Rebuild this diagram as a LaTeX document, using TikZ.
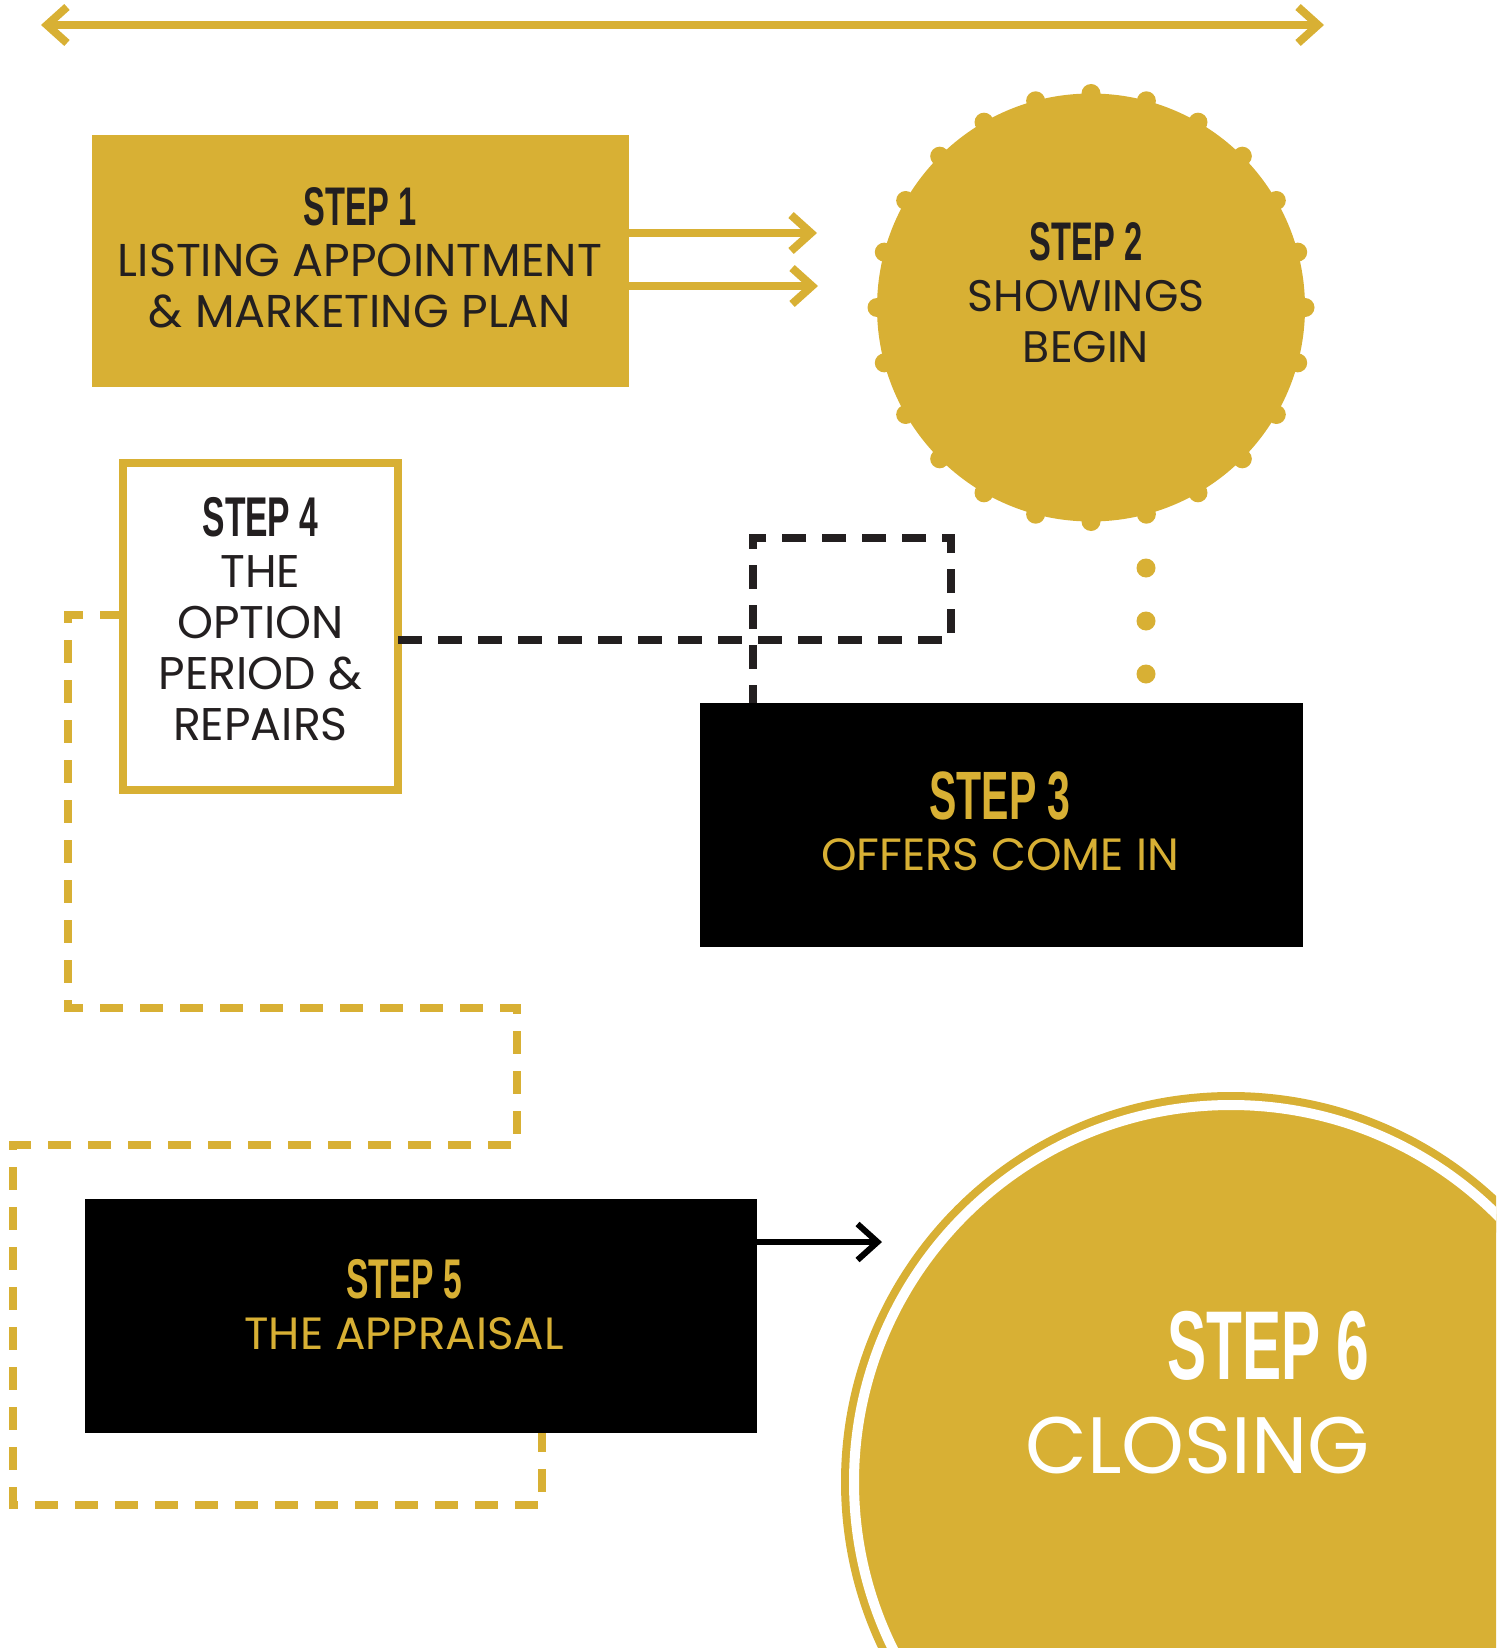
\documentclass[tikz,border=0pt]{standalone}
\usepackage{fontspec}
\setmainfont{Poppins}
\newfontfamily\stepfont{Liberation Sans Bold}[FakeStretch=0.6]
\usetikzlibrary{arrows.meta}
\definecolor{mgold}{RGB}{216, 176, 52}
\definecolor{mdark}{RGB}{35, 31, 32}
\tikzset{
  stepbox/.style = {rectangle, inner sep=0pt, outer sep=0pt},
  steptext/.style = {align=center, inner sep=0pt},
  goldarrow/.style = {mgold, line width=4pt, line join=miter,
                      -{Straight Barb[length=10pt, width=18pt]}},
  darkarrow/.style = {black, line width=3pt, line join=miter,
                      -{Straight Barb[length=10pt, width=18pt]}},
  golddash/.style = {mgold, line width=4pt, dash pattern=on 11.5pt off 8.5pt},
  darkdash/.style = {mdark, line width=4pt, dash pattern=on 12pt off 8pt},
  golddots/.style = {mgold, line width=9.5pt, line cap=round, dash pattern=on 0pt off 26.5pt}
}
\newcommand{\stepsize}[1]{\stepfont\fontsize{#1}{25.5}\selectfont}
\newcommand{\textsize}[1]{\fontsize{#1}{25.5}\selectfont}

\begin{document}
\begin{tikzpicture}[x=0.5pt, y=-0.5pt]
    \useasboundingbox (0, 0) rectangle (1496, 1648);
    \clip (0, 0) rectangle (1496, 1648);

    \node [stepbox, fill=mgold, minimum width=268.5pt, minimum height=126pt] (s1) at (360, 261) {};
    \node [circle, fill=mgold, inner sep=0pt, outer sep=0pt, minimum size=214pt] (s2) at (1091, 307.5) {};
    \node [stepbox, fill=black, minimum width=301.5pt, minimum height=122pt] (s3) at (1001.5, 825) {};
    \node [stepbox, draw=mgold, line width=4pt, fill=white, minimum width=137.5pt, minimum height=163.5pt] (s4) at (260.5, 626.5) {};
    \node [stepbox, fill=black, minimum width=336pt, minimum height=117pt] (s5) at (421, 1316) {};
    \node [circle, fill=mgold, draw=mgold, line width=4pt, double=white, double distance=5pt,
           inner sep=0pt, minimum size=377pt] (s6) at (1231, 1482) {};

    \foreach \a in {0, 15, ..., 345}
      \fill [mgold] (s2.\a) circle (9.5);

    \node [steptext, text=mdark, font=\textsize{23}] (t1) at (360, 258)
      {{\stepsize{27.2}STEP 1}\\LISTING APPOINTMENT\\\& MARKETING PLAN};
    \node [steptext, text=mdark, font=\textsize{22.1}] (t2) at (1086, 293)
      {{\stepsize{27.2}STEP 2}\\SHOWINGS\\BEGIN};
    \node [steptext, text=mgold, font=\textsize{22.6}] (t3) at (1000, 821)
      {{\stepsize{34.2}STEP 3}\\OFFERS COME IN};
    \node [steptext, text=mdark, font=\textsize{22.9}] (t4) at (260.5, 619.5)
      {{\stepsize{28}STEP 4}\\THE\\OPTION\\PERIOD \&\\REPAIRS};
    \node [steptext, text=mgold, font=\textsize{22.6}] (t5) at (404, 1305)
      {{\stepsize{28}STEP 5}\\THE APPRAISAL};
    \node [steptext, align=right, anchor=east, text=white, font=\fontsize{40}{47}\selectfont] (t6) at (1370, 1393)
      {{\stepfont\fontsize{48.9}{47}\selectfont STEP 6}\\CLOSING};

    \coordinate (tl) at (41, 25);
    \coordinate (tr) at (1324, 25);
    \draw [goldarrow, {Straight Barb[length=10pt, width=18pt]}-{Straight Barb[length=10pt, width=18pt]}] (tl) -- (tr);

    \coordinate (a1) at (817, 233);
    \coordinate (a2) at (818, 286);
    \draw [goldarrow] (s1.east |- a1) -- (a1);
    \draw [goldarrow] (s1.east |- a2) -- (a2);

    \coordinate (d1) at (1146, 568);
    \draw [golddots] (d1) -- (d1 |- s3.north);

    \coordinate (k1) at (951, 640);
    \coordinate (k2) at (753, 538);
    \draw [darkdash] (s4.east |- k1) -- (k1) |- (k2) -- (k2 |- s3.north);

    \draw [golddash] ([yshift=5.75pt]s4.west) -| (68, 1008) -| (517, 1145) -| (13, 1505) -| ([xshift=60.5pt]s5.south);

    \coordinate (a3) at (882, 1242);
    \draw [darkarrow] (s5.east |- a3) -- (a3);
\end{tikzpicture}
\end{document}
